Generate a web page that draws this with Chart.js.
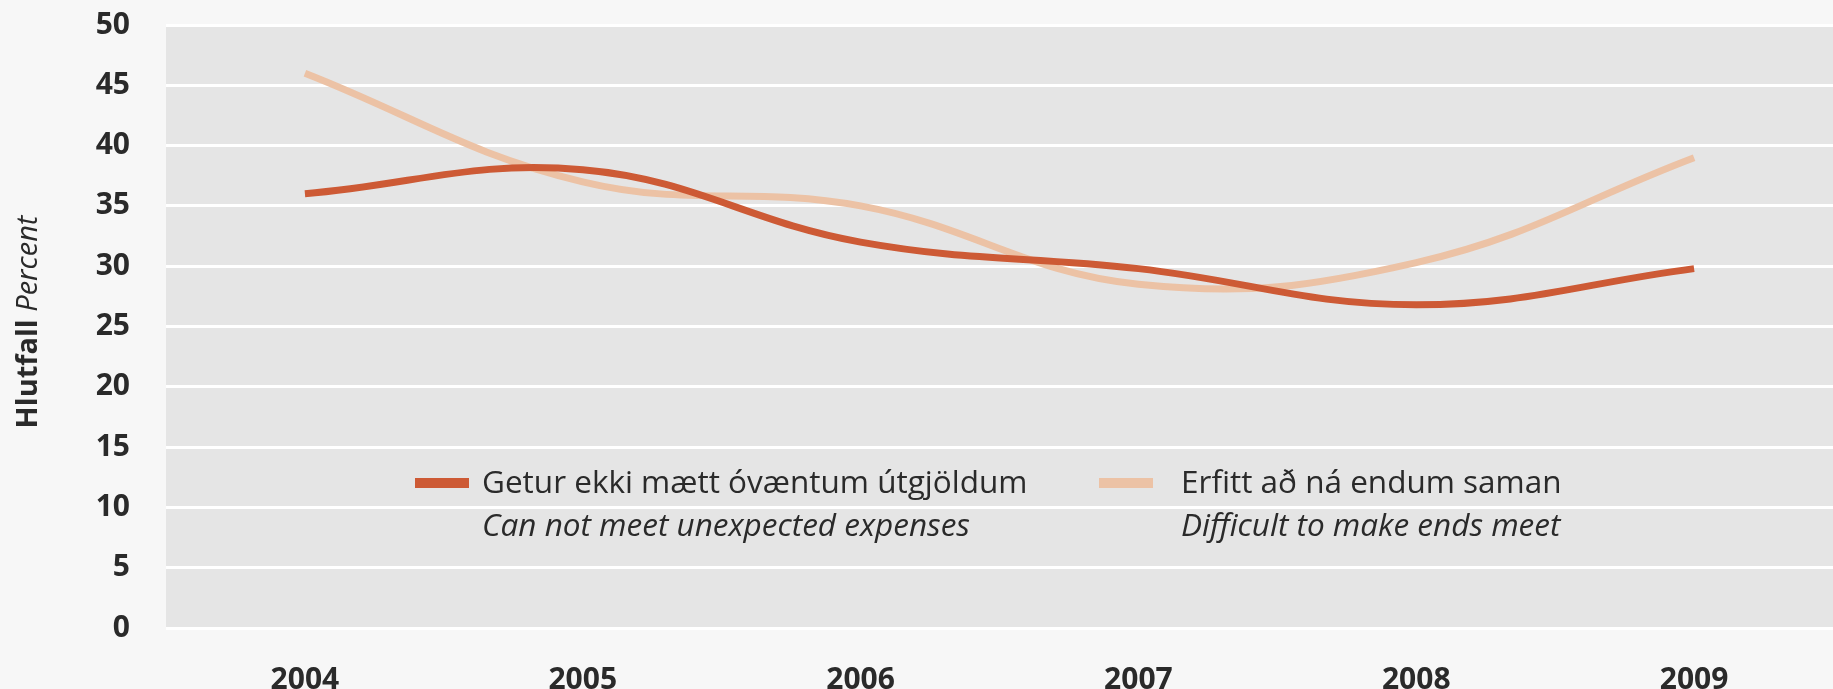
<!DOCTYPE html>
<html lang="is">
<head>
    <meta charset="UTF-8">
    <title>Hlutfall</title>
    <script src="https://cdn.jsdelivr.net/npm/chart.js"></script>
    <style>
        body {
            margin: 0;
            background: #f7f7f7;
            overflow: hidden;
        }
        #wrap {
            width: 1833px;
            height: 689px;
        }
    </style>
</head>
<body>
    <div id="wrap"><canvas id="chart" width="1833" height="689"></canvas></div>

    <script>
        // data
        const years = ['2004', '2005', '2006', '2007', '2008', '2009'];
        const unexpected = [36, 38, 32, 29.8, 26.8, 29.8];
        const endsMeet = [46, 37, 35, 28.5, 30.3, 39];

        const seriesNames = [
            ['Getur ekki mætt óvæntum útgjöldum', 'Can not meet unexpected expenses'],
            ['Erfitt að ná endum saman', 'Difficult to make ends meet']
        ];
        const yTicks = [0, 5, 10, 15, 20, 25, 30, 35, 40, 45, 50];

        const DARK = '#cd5a35';
        const LIGHT = '#ecc2a5';
        const TEXT = '#2a2a2a';
        const FONT = "'Open Sans', 'DejaVu Sans', sans-serif";

        // grey plot background
        const plotBg = {
            id: 'plotBg',
            beforeDraw(chart) {
                const { ctx, chartArea: a } = chart;
                ctx.save();
                ctx.fillStyle = '#e5e5e5';
                ctx.fillRect(a.left, a.top, a.right - a.left, a.bottom - a.top);
                ctx.restore();
            }
        };

        // two line legend inside the plot + mixed style axis title
        const extras = {
            id: 'extras',
            afterDraw(chart) {
                const ctx = chart.ctx;
                ctx.save();

                // y title: "Hlutfall" + italic "Percent"
                ctx.translate(29, 322);
                ctx.rotate(-Math.PI / 2);
                ctx.textBaseline = 'middle';
                ctx.fillStyle = TEXT;
                const boldF = 'bold 29px ' + FONT;
                const italF = 'italic 29px ' + FONT;
                ctx.font = boldF;
                const w1 = ctx.measureText('Hlutfall ').width;
                ctx.font = italF;
                const w2 = ctx.measureText('Percent').width;
                let x0 = -(w1 + w2) / 2;
                ctx.font = boldF;
                ctx.fillText('Hlutfall ', x0, 0);
                ctx.font = italF;
                ctx.fillText('Percent', x0 + w1, 0);
                ctx.setTransform(1, 0, 0, 1, 0, 0);

                // legend
                const items = [
                    { sx: 415, tx: 482 },
                    { sx: 1099, tx: 1181 }
                ];
                items.forEach((it, i) => {
                    const ds = chart.data.datasets[i];
                    ctx.fillStyle = ds.borderColor;
                    ctx.fillRect(it.sx, 478, 54, 10);
                    ctx.fillStyle = TEXT;
                    ctx.textBaseline = 'middle';
                    ctx.font = '31.5px ' + FONT;
                    ctx.fillText(seriesNames[i][0], it.tx, 484);
                    ctx.font = 'italic 31.5px ' + FONT;
                    ctx.fillText(seriesNames[i][1], it.tx, 527);
                });
                ctx.restore();
            }
        };

        new Chart(document.getElementById('chart'), {
            type: 'line',
            data: {
                labels: years,
                datasets: [
                    {
                        label: seriesNames[0].join(' '),
                        data: unexpected,
                        borderColor: DARK,
                        backgroundColor: DARK,
                        borderWidth: 7,
                        tension: 0.4,
                        pointRadius: 0,
                        fill: false
                    },
                    {
                        label: seriesNames[1].join(' '),
                        data: endsMeet,
                        borderColor: LIGHT,
                        backgroundColor: LIGHT,
                        borderWidth: 7,
                        tension: 0.4,
                        pointRadius: 0,
                        fill: false
                    }
                ]
            },
            options: {
                responsive: false,
                animation: false,
                devicePixelRatio: 1,
                layout: { padding: { top: 25, left: 0, right: 0, bottom: 0 } },
                plugins: {
                    legend: { display: false },
                    tooltip: { enabled: false }
                },
                scales: {
                    x: {
                        offset: true,
                        grid: { display: false, drawTicks: false },
                        border: { display: false },
                        ticks: {
                            color: TEXT,
                            padding: 34,
                            maxRotation: 0,
                            font: { family: FONT, size: 30, weight: 'bold' }
                        },
                        afterFit(scale) { scale.height = 61; }
                    },
                    y: {
                        min: 0,
                        max: 50,
                        afterBuildTicks(scale) {
                            scale.ticks = yTicks.map(v => ({ value: v }));
                        },
                        grid: { color: '#ffffff', lineWidth: 3, drawTicks: false },
                        border: { display: false },
                        ticks: {
                            color: TEXT,
                            padding: 36,
                            font: { family: FONT, size: 30, weight: 'bold' }
                        },
                        afterFit(scale) {
                            scale.width = 166;
                            // the tick padding is meant sideways only
                            scale.paddingTop = 0;
                            scale.paddingBottom = 0;
                        }
                    }
                }
            },
            plugins: [plotBg, extras]
        });
    </script>
</body>
</html>
